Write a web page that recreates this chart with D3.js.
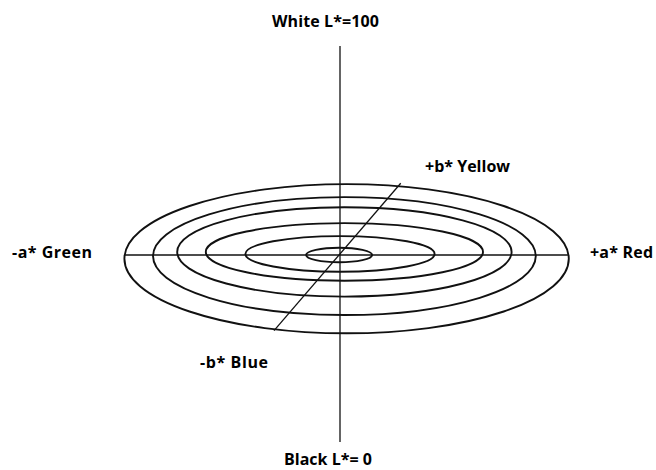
<!DOCTYPE html>
<html>
<head>
<meta charset="utf-8">
<script src="https://cdn.jsdelivr.net/npm/d3@7"></script>
<style>
  body { margin: 0; background: #fff; }
  .axis_labels { font-family: "Open Sans", Lato, sans-serif; font-weight: bold; font-size: 16px; fill: #000; }
</style>
</head>
<body>
<div class="fig_lab"></div>
<script>

// rings of equal chroma, in a*/b* units (b* is drawn foreshortened)
var ringA = [15, 43, 63, 76, 87, 101];
var ringB = [3.3, 8.1, 13.1, 20.3, 26.8, 33.9];
// small offsets of each ring centre, as drawn
var ringShiftA = [-0.4, 0, 2, 2, 2, 3];
var ringShiftB = [0, 0.5, 1.4, 1.4, -0.5, -1.7];

// axis extents
var aAxis = [-98.2, 103.6];
var bAxis = [[-30, -34.4], [27.6, 32.6]];
var lAxis = [0, 100];

var labels = {
  top: "White L*=100",
  bottom: "Black L*= 0",
  left: "-a* Green",
  right: "+a* Red",
  yellow: "+b* Yellow",
  blue: "-b* Blue"
};

function plotLab() {

  var width = 656;
  var height = 470;
  var unit = 2.2;
  var cx = 340;
  var cy = 255;

  var x = d3.scaleLinear()
          .domain([-100, 100])
          .range([cx - 100 * unit, cx + 100 * unit]);

  var y = d3.scaleLinear()
          .domain([-100, 100])
          .range([cy + 100 * unit, cy - 100 * unit]);

  var l = d3.scaleLinear()
          .domain(lAxis)
          .range([442, 46]);

  var svg = d3.select(".fig_lab")
    .append("svg")
    .attr("width", width)
    .attr("height", height);

  var rings = ringA.map((a, i) => ({a: a, b: ringB[i], da: ringShiftA[i], db: ringShiftB[i]}));

  // ellipses
  svg.append("g")
    .selectAll("ellipse")
    .data(rings)
    .enter()
    .append("ellipse")
    .attr("cx", d => x(d.da))
    .attr("cy", d => y(d.db))
    .attr("rx", d => x(d.a) - x(0))
    .attr("ry", d => y(0) - y(d.b))
    .attr("fill", "none")
    .attr("stroke", "#111")
    .attr("stroke-width", 1.9);

  var axes = svg.append("g")
    .attr("stroke", "#111")
    .attr("stroke-width", 1.3);

  // a* axis
  axes.append("line")
    .attr("x1", x(aAxis[0]))
    .attr("x2", x(aAxis[1]))
    .attr("y1", y(0))
    .attr("y2", y(0));

  // b* axis (diagonal)
  axes.append("line")
    .attr("x1", x(bAxis[0][0]))
    .attr("y1", y(bAxis[0][1]))
    .attr("x2", x(bAxis[1][0]))
    .attr("y2", y(bAxis[1][1]));

  // L* axis
  axes.append("line")
    .attr("x1", x(0))
    .attr("x2", x(0))
    .attr("y1", l(lAxis[0]))
    .attr("y2", l(lAxis[1]));

  // labels, widths
  var txt = [
    {t: labels.top, x: 272, y: 27, w: 107},
    {t: labels.yellow, x: 425, y: 172, w: 85},
    {t: labels.left, x: 12, y: 258, w: 80},
    {t: labels.right, x: 590, y: 258, w: 63},
    {t: labels.blue, x: 200, y: 368, w: 68},
    {t: labels.bottom, x: 284, y: 465, w: 88}
  ];

  svg.append("g")
    .selectAll("text")
    .data(txt)
    .enter()
    .append("text")
    .attr("class", "axis_labels")
    .attr("x", d => d.x)
    .attr("y", d => d.y)
    .attr("textLength", d => d.w)
    .attr("lengthAdjust", "spacing")
    .text(d => d.t);
}

plotLab();
</script>
</body>
</html>
